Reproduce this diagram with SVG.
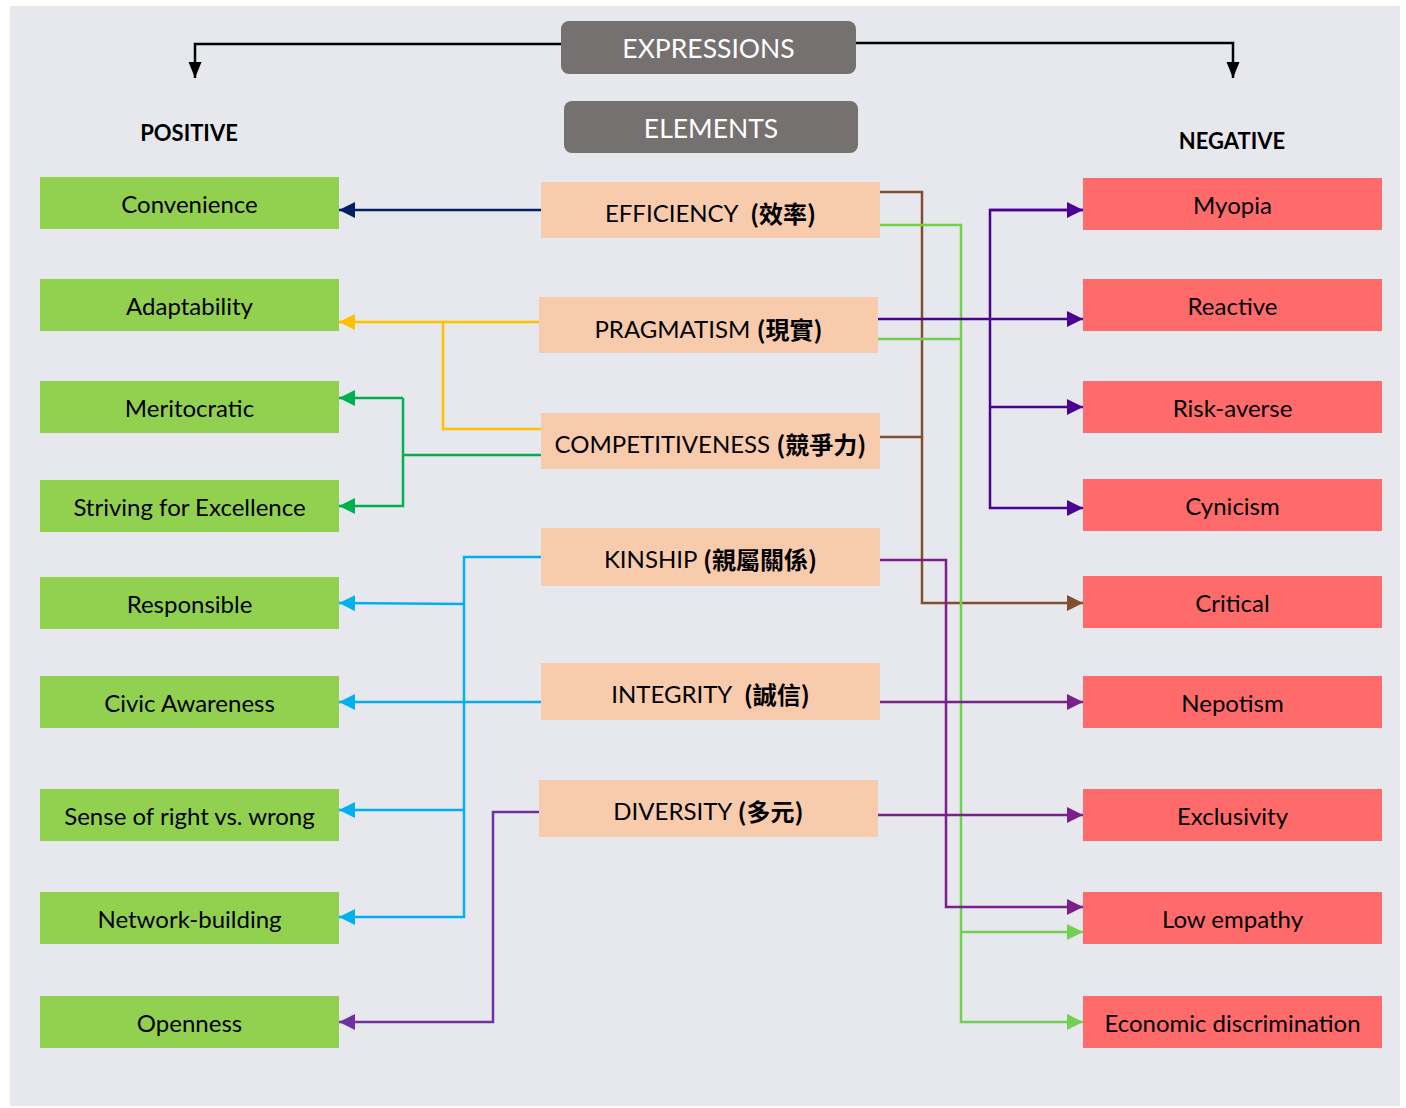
<svg xmlns="http://www.w3.org/2000/svg" width="1406" height="1108" viewBox="0 0 1406 1108">
<defs>
<style>
.t{font-family:Lato,"Noto Sans CJK TC","Noto Sans",sans-serif;font-size:24px;fill:#000;text-anchor:middle;dominant-baseline:central}
.h{font-family:Lato,"Noto Sans",sans-serif;font-size:26.5px;fill:#fff;text-anchor:middle;dominant-baseline:central}
.lab{font-family:Lato,"Noto Sans",sans-serif;font-size:22px;font-weight:bold;fill:#000;text-anchor:middle;dominant-baseline:central}
.cj{font-family:"Noto Sans CJK TC",sans-serif;font-weight:bold}
.pos{fill:#92D050}
.neg{fill:#FF6B6B}
.el{fill:#F8CBAD}
.hd{fill:#767171}
.c{fill:none;stroke-width:2.5}
</style>
<marker id="aK" markerUnits="userSpaceOnUse" markerWidth="18" markerHeight="14" refX="16" refY="6.5" orient="auto"><path d="M0,0 L16,6.5 L0,13 Z" fill="#000"/></marker>
<marker id="aNv" markerUnits="userSpaceOnUse" markerWidth="18" markerHeight="18" refX="16" refY="8" orient="auto"><path d="M0,0 L16,8 L0,16 Z" fill="#002060"/></marker>
<marker id="aY" markerUnits="userSpaceOnUse" markerWidth="18" markerHeight="18" refX="16" refY="8" orient="auto"><path d="M0,0 L16,8 L0,16 Z" fill="#FFC000"/></marker>
<marker id="aG" markerUnits="userSpaceOnUse" markerWidth="18" markerHeight="18" refX="16" refY="8" orient="auto"><path d="M0,0 L16,8 L0,16 Z" fill="#00B050"/></marker>
<marker id="aC" markerUnits="userSpaceOnUse" markerWidth="18" markerHeight="18" refX="16" refY="8" orient="auto"><path d="M0,0 L16,8 L0,16 Z" fill="#00B0F0"/></marker>
<marker id="aP" markerUnits="userSpaceOnUse" markerWidth="18" markerHeight="18" refX="16" refY="8" orient="auto"><path d="M0,0 L16,8 L0,16 Z" fill="#7030A0"/></marker>
<marker id="aB" markerUnits="userSpaceOnUse" markerWidth="18" markerHeight="18" refX="16" refY="8" orient="auto"><path d="M0,0 L16,8 L0,16 Z" fill="#7F4F2F"/></marker>
<marker id="aL" markerUnits="userSpaceOnUse" markerWidth="18" markerHeight="18" refX="16" refY="8" orient="auto"><path d="M0,0 L16,8 L0,16 Z" fill="#72D050"/></marker>
<marker id="aD" markerUnits="userSpaceOnUse" markerWidth="18" markerHeight="18" refX="16" refY="8" orient="auto"><path d="M0,0 L16,8 L0,16 Z" fill="#4B0096"/></marker>
<marker id="aM" markerUnits="userSpaceOnUse" markerWidth="18" markerHeight="18" refX="16" refY="8" orient="auto"><path d="M0,0 L16,8 L0,16 Z" fill="#7A1F8C"/></marker>
</defs>
<rect x="0" y="0" width="1406" height="1108" fill="#fff"/>
<rect x="10" y="6" width="1390" height="1100" fill="#E7E8EE"/>

<g id="connectors">
<path class="c" stroke="#000" d="M561,44 H195 V78" marker-end="url(#aK)"/>
<path class="c" stroke="#000" d="M856,43 H1233 V78" marker-end="url(#aK)"/>
<path class="c" stroke="#002060" d="M541,210 H339" marker-end="url(#aNv)"/>
<path class="c" stroke="#FFC000" d="M539,322 H339" marker-end="url(#aY)"/>
<path class="c" stroke="#FFC000" d="M541,429 H443 V322"/>
<path class="c" stroke="#00B050" d="M541,455 H403"/>
<path class="c" stroke="#00B050" d="M403,398 H339" marker-end="url(#aG)"/>
<path class="c" stroke="#00B050" d="M403,398 V506 H339" marker-end="url(#aG)"/>
<path class="c" stroke="#00B0F0" d="M541,557 H464 V917 H339" marker-end="url(#aC)"/>
<path class="c" stroke="#00B0F0" d="M464,604 L339,603" marker-end="url(#aC)"/>
<path class="c" stroke="#00B0F0" d="M464,810 H339" marker-end="url(#aC)"/>
<path class="c" stroke="#00B0F0" d="M541,702 H339" marker-end="url(#aC)"/>
<path class="c" stroke="#7030A0" d="M539,812 H493 V1022 H339" marker-end="url(#aP)"/>

<path class="c" stroke="#7F4F2F" d="M880,192 H922 V603 H1083" marker-end="url(#aB)"/>
<path class="c" stroke="#7F4F2F" d="M880,437 H922"/>
<path class="c" stroke="#72D050" d="M878,225 H961 V1022 H1083" marker-end="url(#aL)"/>
<path class="c" stroke="#72D050" d="M878,339 H961"/>
<path class="c" stroke="#72D050" d="M961,932 H1083" marker-end="url(#aL)"/>
<path class="c" stroke="#4B0096" d="M878,319 H1083" marker-end="url(#aD)"/>
<path class="c" stroke="#4B0096" d="M1083,210 H990 V508 H1083" marker-end="url(#aD)"/>
<path class="c" stroke="#4B0096" d="M990,210 H1083" marker-end="url(#aD)"/>
<path class="c" stroke="#4B0096" d="M990,407 H1083" marker-end="url(#aD)"/>
<path class="c" stroke="#7A1F8C" d="M880,560 H946 V907 H1083" marker-end="url(#aM)"/>
<path class="c" stroke="#7A1F8C" d="M880,702 H1083" marker-end="url(#aM)"/>
<path class="c" stroke="#7A1F8C" d="M878,815 H1083" marker-end="url(#aM)"/>
</g>

<g id="expressions"><rect class="hd" x="561" y="21" width="295" height="53" rx="8"/><text class="h" x="708.5" y="48">EXPRESSIONS</text></g>
<g id="elements"><rect class="hd" x="564" y="101" width="294" height="52" rx="8"/><text class="h" x="711" y="128">ELEMENTS</text></g>
<g id="positive"><text class="lab" x="189" y="132">POSITIVE</text></g>
<g id="negative"><text class="lab" x="1232" y="140">NEGATIVE</text></g>

<g id="convenience"><rect class="pos" x="40" y="177" width="299" height="52"/><text class="t" x="189.5" y="203">Convenience</text></g>
<g id="adaptability"><rect class="pos" x="40" y="279" width="299" height="52"/><text class="t" x="189.5" y="305">Adaptability</text></g>
<g id="meritocratic"><rect class="pos" x="40" y="381" width="299" height="52"/><text class="t" x="189.5" y="407">Meritocratic</text></g>
<g id="striving"><rect class="pos" x="40" y="480" width="299" height="52"/><text class="t" x="189.5" y="506">Striving for Excellence</text></g>
<g id="responsible"><rect class="pos" x="40" y="577" width="299" height="52"/><text class="t" x="189.5" y="603">Responsible</text></g>
<g id="civic"><rect class="pos" x="40" y="676" width="299" height="52"/><text class="t" x="189.5" y="702">Civic Awareness</text></g>
<g id="sense"><rect class="pos" x="40" y="789" width="299" height="52"/><text class="t" x="189.5" y="815">Sense of right vs. wrong</text></g>
<g id="network"><rect class="pos" x="40" y="892" width="299" height="52"/><text class="t" x="189.5" y="918">Network-building</text></g>
<g id="openness"><rect class="pos" x="40" y="996" width="299" height="52"/><text class="t" x="189.5" y="1022">Openness</text></g>

<g id="efficiency"><rect class="el" x="541" y="182" width="339" height="56"/><text class="t" x="710.5" y="212">EFFICIENCY&#160; <tspan class="cj">(效率)</tspan></text></g>
<g id="pragmatism"><rect class="el" x="539" y="297" width="339" height="56"/><text class="t" x="708.5" y="328">PRAGMATISM <tspan class="cj">(現實)</tspan></text></g>
<g id="competitiveness"><rect class="el" x="541" y="413" width="339" height="56"/><text class="t" x="710.5" y="443">COMPETITIVENESS <tspan class="cj">(競爭力)</tspan></text></g>
<g id="kinship"><rect class="el" x="541" y="528" width="339" height="58"/><text class="t" x="710.5" y="558">KINSHIP <tspan class="cj">(親屬關係)</tspan></text></g>
<g id="integrity"><rect class="el" x="541" y="663" width="339" height="57"/><text class="t" x="710.5" y="693">INTEGRITY&#160; <tspan class="cj">(誠信)</tspan></text></g>
<g id="diversity"><rect class="el" x="539" y="780" width="339" height="57"/><text class="t" x="708.5" y="810">DIVERSITY <tspan class="cj">(多元)</tspan></text></g>

<g id="myopia"><rect class="neg" x="1083" y="178" width="299" height="52"/><text class="t" x="1232.5" y="204">Myopia</text></g>
<g id="reactive"><rect class="neg" x="1083" y="279" width="299" height="52"/><text class="t" x="1232.5" y="305">Reactive</text></g>
<g id="riskaverse"><rect class="neg" x="1083" y="381" width="299" height="52"/><text class="t" x="1232.5" y="407">Risk-averse</text></g>
<g id="cynicism"><rect class="neg" x="1083" y="479" width="299" height="52"/><text class="t" x="1232.5" y="505">Cynicism</text></g>
<g id="critical"><rect class="neg" x="1083" y="576" width="299" height="52"/><text class="t" x="1232.5" y="602">Critical</text></g>
<g id="nepotism"><rect class="neg" x="1083" y="676" width="299" height="52"/><text class="t" x="1232.5" y="702">Nepotism</text></g>
<g id="exclusivity"><rect class="neg" x="1083" y="789" width="299" height="52"/><text class="t" x="1232.5" y="815">Exclusivity</text></g>
<g id="lowempathy"><rect class="neg" x="1083" y="892" width="299" height="52"/><text class="t" x="1232.5" y="918">Low empathy</text></g>
<g id="economic"><rect class="neg" x="1083" y="996" width="299" height="52"/><text class="t" x="1232.5" y="1022">Economic discrimination</text></g>
</svg>
